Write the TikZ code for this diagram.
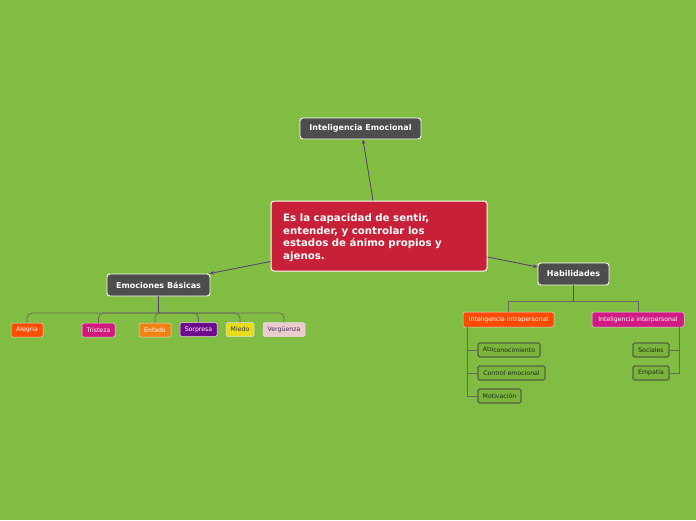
\documentclass[tikz,border=0pt]{standalone}
\usepackage{fontspec}
\setmainfont{DejaVu Sans}
\usetikzlibrary{arrows.meta,calc}
\definecolor{bg}{RGB}{128,189,66}
\definecolor{dark}{RGB}{77,77,77}
\definecolor{mainred}{RGB}{200,32,56}
\definecolor{conn}{RGB}{90,60,120}
\definecolor{treeg}{RGB}{105,105,95}
\definecolor{leaffill}{RGB}{122,180,60}
\definecolor{leafdraw}{RGB}{85,100,62}
\definecolor{leaftext}{RGB}{30,45,20}
\definecolor{cAlegria}{RGB}{255,78,0}
\definecolor{cTristeza}{RGB}{208,25,122}
\definecolor{cEnfado}{RGB}{240,130,20}
\definecolor{cSorpresa}{RGB}{110,10,140}
\definecolor{cMiedo}{RGB}{232,220,30}
\definecolor{cVerg}{RGB}{234,204,206}
\definecolor{cIntra}{RGB}{255,74,0}
\definecolor{cInter}{RGB}{208,28,130}
\tikzset{
  topic/.style={fill=dark, draw=white, line width=0.9pt, rounded corners=3pt, text=white,
    font=\fontsize{8}{9.6}\selectfont\bfseries, minimum height=22pt, inner sep=0pt},
  emo/.style={draw=white!75!gray, line width=0.5pt, rounded corners=1.5pt, text=white,
    font=\fontsize{6.2}{7}\selectfont, minimum height=14pt, inner sep=0pt},
  leaf/.style={fill=leaffill, draw=leafdraw, line width=1.1pt, rounded corners=1.5pt, text=leaftext,
    font=\fontsize{6.2}{7}\selectfont, minimum height=14pt, inner sep=0pt},
  conn/.style={draw=conn, line width=0.8pt, -{Stealth[length=4.5pt,width=3.5pt]}},
  stub/.style={draw=conn, line width=0.8pt},
  tree/.style={draw=treeg, line width=0.7pt},
}
\begin{document}
\begin{tikzpicture}[x=1pt,y=-1pt]
\fill[bg] (0,0) rectangle (696,520);
\useasboundingbox (0,0) rectangle (696,520);

\node[fill=mainred, draw=white, line width=1pt, rounded corners=3pt, text=white,
  minimum width=216pt, minimum height=70pt, inner sep=0pt] (main) at (379,236) {};
\node[anchor=north west, text=white, align=left, inner sep=0pt,
  font=\fontsize{10.2}{12.7}\selectfont\bfseries] (maintext) at (283,213.5)
  {Es la capacidad de sentir,\\entender, y controlar los\\estados de ánimo propios y\\ajenos.};

\node[topic, minimum width=121pt, minimum height=21pt] (IE) at (360.5,128.5) {Inteligencia Emocional};
\node[topic, minimum width=103pt] (EB) at (158.5,285) {Emociones Básicas};
\node[topic, minimum width=71pt] (Hab) at (573.5,274) {Habilidades};

\node[emo, fill=cAlegria, minimum width=32pt] (Alegria) at (27,330) {Alegria};
\node[emo, fill=cTristeza, minimum width=33pt] (Tristeza) at (98.5,330) {Tristeza};
\node[emo, fill=cEnfado, minimum width=32pt] (Enfado) at (155,330) {Enfado};
\node[emo, fill=cSorpresa, minimum width=37pt] (Sorpresa) at (198.5,329.5) {Sorpresa};
\node[emo, fill=cMiedo, text=black!80, minimum width=28pt] (Miedo) at (240,329.5) {Miedo};
\node[emo, fill=cVerg, text=conn!80!black, minimum width=42pt] (Verg) at (284,329.5) {Vergüenza};

\node[emo, fill=cIntra, minimum width=91pt, minimum height=15pt] (Intra) at (508.5,319.5) {Inteligencia intrapersonal};
\node[emo, fill=cInter, minimum width=92pt, minimum height=15pt] (Inter) at (638,319.5) {Inteligencia interpersonal};

\node[leaf, minimum width=62pt] (Ato) at (509,350) {\raisebox{1pt}{Ato}conocimiento};
\node[leaf, minimum width=67pt] (Control) at (511.5,373) {Control emocional};
\node[leaf, minimum width=43pt] (Motiv) at (499.5,396) {Motivación};
\node[leaf, minimum width=36pt] (Soc) at (651,350) {Sociales};
\node[leaf, minimum width=36pt] (Emp) at (651,373) {Empatía};

% main connectors
\draw[conn] ([xshift=-6pt]main.north) -- ([xshift=2.5pt]IE.south);
\draw[conn] ([yshift=10pt]main.south west) -- ([xshift=-1pt]EB.north east);
\draw[conn] ([yshift=-21pt]main.east) -- ([yshift=7pt]Hab.west);

% emotions tree
\coordinate (ebj) at (158.5,313);
\draw[stub] (EB.south) -- (ebj);
\foreach \c in {Alegria,Tristeza,Enfado,Sorpresa,Miedo,Verg}
  \draw[tree, rounded corners=5pt] (ebj) -| (\c.north);

% habilidades tree
\coordinate (hj) at (573.5,301);
\draw[stub] (Hab.south) -- (hj);
\draw[tree] (hj) -| (Intra.north);
\draw[tree] (hj) -| (Inter.north);

\coordinate (ia) at ([xshift=5pt]Intra.south west);
\foreach \c in {Ato,Control,Motiv}
  \draw[tree] (ia) |- (\c.west);
\coordinate (ie) at ([xshift=-5pt]Inter.south east);
\foreach \c in {Soc,Emp}
  \draw[tree] (ie) |- (\c.east);
\end{tikzpicture}
\end{document}
